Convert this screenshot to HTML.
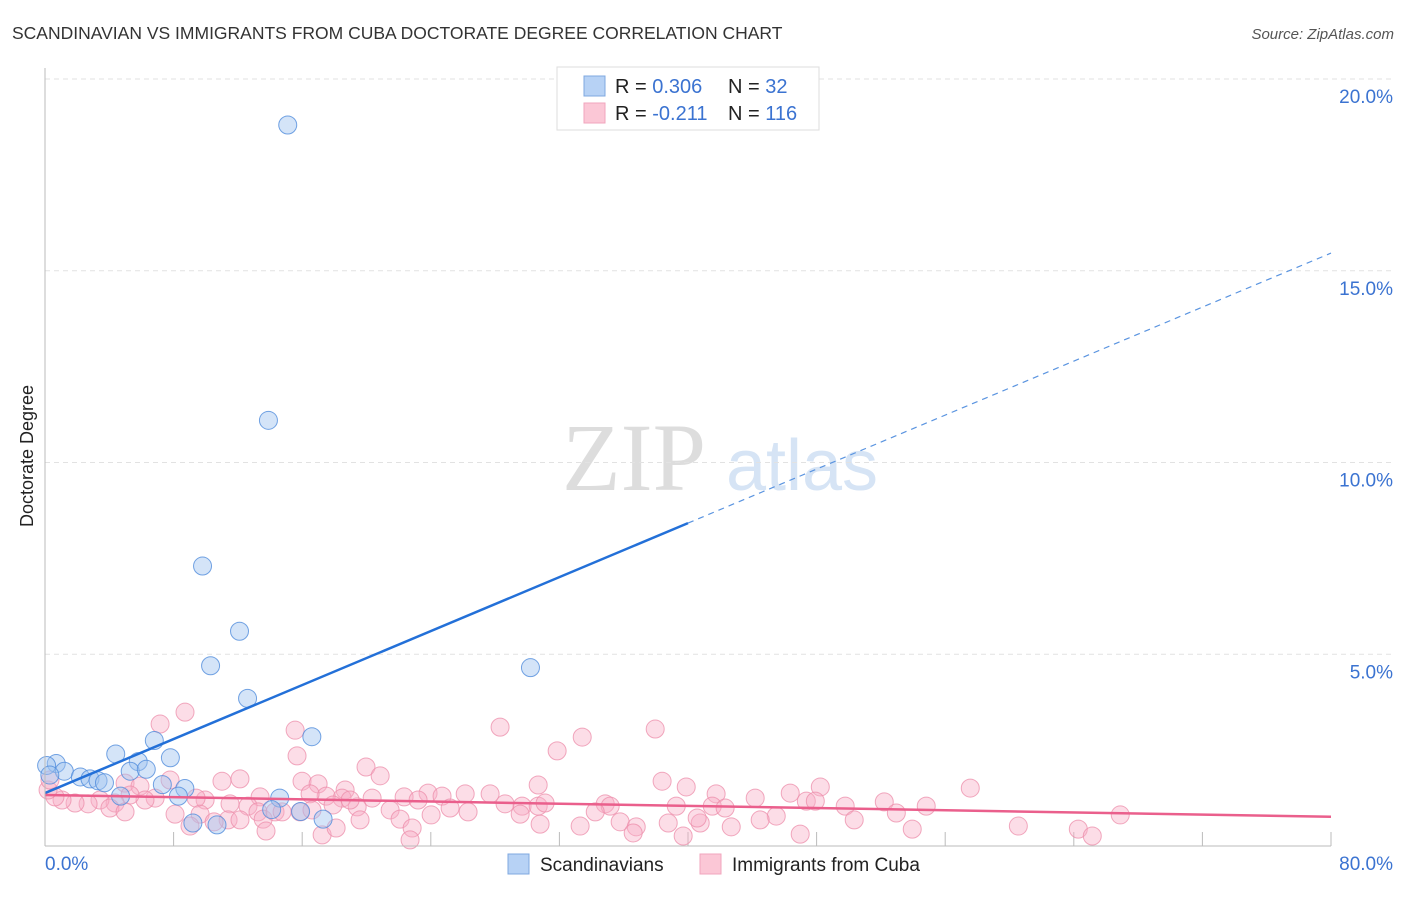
<!DOCTYPE html>
<html><head><meta charset="utf-8"><style>
body{margin:0;background:#fff;font-family:"Liberation Sans",sans-serif}
svg text{font-family:"Liberation Sans",sans-serif}
</style></head><body>
<svg id="c" width="1406" height="892" viewBox="0 0 1406 892">
<text x="12" y="39" font-size="17.5" fill="#333">SCANDINAVIAN VS IMMIGRANTS FROM CUBA DOCTORATE DEGREE CORRELATION CHART</text>
<text x="1394" y="39" font-size="15" fill="#555" font-style="italic" text-anchor="end">Source: ZipAtlas.com</text>
<text x="634" y="490" font-size="96" fill="#ddd" font-family="Liberation Serif,serif" text-anchor="middle" style="font-family:'Liberation Serif',serif">ZIP</text>
<text x="802" y="490" font-size="72" fill="#d6e4f5" text-anchor="middle">atlas</text>
<text transform="translate(33,456) rotate(-90)" font-size="18" fill="#222" text-anchor="middle">Doctorate Degree</text>
<g id="grid"></g><g id="pts"></g><g id="trend"></g>
<line x1="45" y1="68" x2="45" y2="846" stroke="#bbb"/>
<line x1="45" y1="846" x2="1331" y2="846" stroke="#bbb"/>
<g>
<rect x="557" y="67" width="262" height="63" fill="#fff" stroke="#ddd"/>
<rect x="584" y="76" width="21" height="20" fill="#b7d2f5" stroke="#7fa8e0"/>
<rect x="584" y="103" width="21" height="20" fill="#fbc7d6" stroke="#f0a6bd"/>
<text x="615" y="93" font-size="20" fill="#222">R = <tspan fill="#3b73d1">0.306</tspan></text>
<text x="728" y="93" font-size="20" fill="#222">N = <tspan fill="#3b73d1"> 32</tspan></text>
<text x="615" y="120" font-size="20" fill="#222">R = <tspan fill="#3b73d1">-0.211</tspan></text>
<text x="728" y="120" font-size="20" fill="#222">N = <tspan fill="#3b73d1">116</tspan></text>
</g>
<g>
<rect x="508" y="854" width="21" height="20" fill="#b7d2f5" stroke="#7fa8e0"/>
<text x="540" y="871" font-size="19" fill="#222">Scandinavians</text>
<rect x="700" y="854" width="21" height="20" fill="#fbc7d6" stroke="#f0a6bd"/>
<text x="732" y="871" font-size="19" fill="#222">Immigrants from Cuba</text>
</g>
</svg>
<script>
const yTicks=[5,10,15,20];
const yTickLabels=["5.0%","10.0%","15.0%","20.0%"];
const xTicks=[8,16,24,32,40,48,56,64,72,80];
const xLabels=["0.0%","80.0%"];
const blueX=[15.1,13.9,9.8,12.1,10.3,30.2,12.6,16.6,6.8,4.4,7.8,5.8,0.7,0.1,1.2,5.3,6.3,0.3,2.2,2.8,3.3,3.7,7.3,8.7,8.3,14.6,4.7,14.1,15.9,9.2,10.7,17.3];
const blueY=[18.8,11.1,7.3,5.6,4.7,4.65,3.85,2.85,2.75,2.4,2.3,2.2,2.15,2.1,1.95,1.95,2.0,1.85,1.8,1.75,1.7,1.65,1.6,1.5,1.3,1.25,1.3,0.95,0.9,0.6,0.55,0.7];
const pinkX=[7.16,8.71,15.56,15.68,28.31,33.42,37.96,31.86,19.97,20.85,15.99,16.99,12.13,11.01,7.78,4.98,5.91,38.39,39.89,41.75,46.36,48.23,57.56,18.67,30.68,23.83,24.70,26.14,27.69,22.34,23.21,20.35,18.48,17.49,16.49,13.38,12.63,11.51,9.96,9.40,6.85,6.22,5.29,4.36,3.42,2.68,1.87,1.06,0.62,0.19,0.31,4.04,4.98,8.09,9.65,11.39,13.25,13.57,14.31,15.87,16.61,17.92,19.42,19.60,21.47,22.09,24.02,26.32,28.62,29.68,30.68,31.11,34.85,35.16,39.27,41.51,42.31,44.18,45.49,47.36,47.92,49.78,50.34,52.21,52.96,54.82,53.95,66.89,60.55,64.28,65.15,30.80,29.56,35.78,36.78,38.77,40.76,42.69,46.98,39.70,36.59,22.84,22.71,17.24,18.11,9.02,10.52,13.75,14.75,12.13,33.29,34.23,40.57,44.49,18.98,25.20];
const pinkY=[3.18,3.49,3.02,2.35,3.10,2.84,3.05,2.48,2.06,1.83,1.69,1.62,1.75,1.69,1.72,1.64,1.56,1.69,1.54,1.36,1.38,1.54,1.51,1.46,1.59,1.38,1.30,1.36,1.36,1.28,1.20,1.25,1.25,1.30,1.36,1.28,1.04,1.10,1.20,1.25,1.25,1.20,1.33,1.12,1.20,1.10,1.12,1.20,1.28,1.46,1.72,0.99,0.89,0.83,0.83,0.68,0.89,0.70,0.89,0.89,0.94,1.07,1.02,0.68,0.94,0.70,0.81,0.89,1.10,1.04,1.04,1.12,1.10,1.04,1.04,1.04,0.99,1.25,0.78,1.17,1.17,1.04,0.68,1.15,0.86,1.04,0.44,0.81,0.52,0.44,0.26,0.57,0.83,0.63,0.50,0.60,0.60,0.50,0.31,0.26,0.34,0.47,0.16,0.29,0.47,0.52,0.63,0.39,0.89,0.68,0.52,0.89,0.73,0.68,1.20,0.99];
const blueTrend=[1.38,0.176];   // intercept, slope
const pinkTrend=[1.33,-0.0071];
const sx=v=>45+v*16.075, sy=v=>846-v*38.35;
const NS="http://www.w3.org/2000/svg";
function mk(t,a,p){const e=document.createElementNS(NS,t);for(const k in a)e.setAttribute(k,a[k]);p.appendChild(e);return e;}
const grid=document.getElementById('grid');
yTicks.forEach((v,i)=>{
 const l=mk('line',{x1:45,x2:1393,y1:sy(v),y2:sy(v),stroke:'#e2e2e2','stroke-dasharray':'5,4'},grid);
 
 
 const t=mk('text',{x:1393,y:sy(v)+24,'font-size':19,fill:'#3b73d1','text-anchor':'end'},grid);
 t.textContent=yTickLabels[i];
 
 
});
xTicks.forEach(v=>{
 const l=mk('line',{x1:sx(v),x2:sx(v),y1:832,y2:846,stroke:'#bbb'},grid);
 
 
});
const t0=mk('text',{x:45,y:870,'font-size':19,fill:'#3b73d1'},grid);t0.textContent=xLabels[0];


const t1=mk('text',{x:1393,y:870,'font-size':19,fill:'#3b73d1','text-anchor':'end'},grid);t1.textContent=xLabels[1];


const pts=document.getElementById('pts');
pinkX.forEach((x,i)=>{
 const c=mk('circle',{cx:sx(x),cy:sy(pinkY[i]),r:9,fill:'rgba(248,175,198,0.42)',stroke:'rgba(236,140,170,0.75)','stroke-width':1},pts);
 
 
});
blueX.forEach((x,i)=>{
 const c=mk('circle',{cx:sx(x),cy:sy(blueY[i]),r:9,fill:'rgba(160,196,240,0.45)',stroke:'rgba(80,140,220,0.8)','stroke-width':1},pts);
 
 
});
const tr=document.getElementById('trend');
const bf=x=>blueTrend[0]+blueTrend[1]*x, pf=x=>pinkTrend[0]+pinkTrend[1]*x;
const b1=mk('line',{x1:sx(0),y1:sy(bf(0)),x2:sx(40),y2:sy(bf(40)),stroke:'#2370d8','stroke-width':2.5},tr);


const b2=mk('line',{x1:sx(40),y1:sy(bf(40)),x2:sx(80),y2:sy(bf(80)),stroke:'#5a94e0','stroke-width':1.2,'stroke-dasharray':'6,5'},tr);


const p1=mk('line',{x1:sx(0),y1:sy(pf(0)),x2:sx(80),y2:sy(pf(80)),stroke:'#ea5f8c','stroke-width':2.5},tr);


</script>
</body></html>
